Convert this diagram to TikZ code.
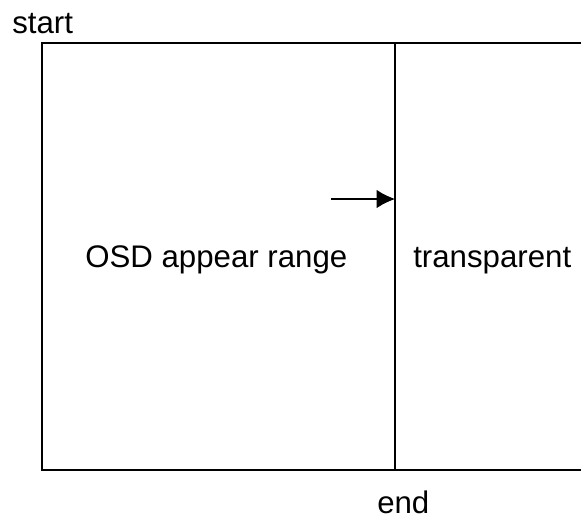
\documentclass[tikz,border=0pt]{standalone}
\usepackage{fontspec}
\setmainfont{Liberation Sans}
\usetikzlibrary{arrows.meta}

\begin{document}
\begin{tikzpicture}[
    x=0.025cm, y=-0.025cm,
    >={Latex[length=13pt,width=13pt]},
    font=\fontsize{22.2}{26}\selectfont,
    frame/.style={
        draw=black,
        line width=0.8pt
    },
    label/.style={
        inner sep=0pt,
        text=black,
        anchor=base west
    }
]
\useasboundingbox (0,0) rectangle (581,521);

% screen area, open to the right
\coordinate (topleft) at (42,43);
\coordinate (botleft) at (42,470);
\coordinate (topright) at (581,43);
\coordinate (botright) at (581,470);
\coordinate (divtop) at (395,43);
\coordinate (divbot) at (395,470);

\draw[frame] (topright) -- (topleft) -- (botleft) -- (botright);
\draw[frame] (divtop) -- (divbot);

\node[label] (start) at (12,33) {start};
\node[label] (end) at (377,513) {end};
\node[label] (osd) at (85,267) {OSD appear range};
\node[label] (transp) at (413,267) {transparent};

\coordinate (arrowtail) at (331,199);
\coordinate (arrowhead) at (395,199);
\draw[->, line width=0.8pt] (arrowtail) -- (arrowhead);
\end{tikzpicture}
\end{document}
